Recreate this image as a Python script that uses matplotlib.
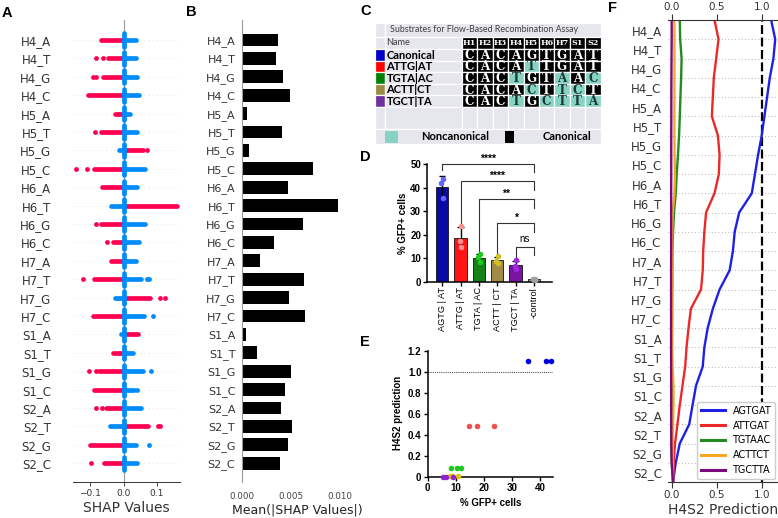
import numpy as np
import matplotlib
matplotlib.use('Agg')
import matplotlib.pyplot as plt
from matplotlib.patches import Rectangle

W, H = 778, 518

# ---- A / B : shap summary ----
features = ['H4_A', 'H4_T', 'H4_G', 'H4_C', 'H5_A', 'H5_T', 'H5_G', 'H5_C',
            'H6_A', 'H6_T', 'H6_G', 'H6_C', 'H7_A', 'H7_T', 'H7_G', 'H7_C',
            'S1_A', 'S1_T', 'S1_G', 'S1_C', 'S2_A', 'S2_T', 'S2_G', 'S2_C']

# dense part of each swarm row (red = feature present, blue = absent)
red_span = [(-0.068, 0), (-0.047, 0), (-0.063, 0), (-0.107, 0), (-0.026, 0), (-0.068, 0), (0, 0.058), (-0.089, 0),
            (-0.065, 0), (0, 0.160), (-0.068, 0), (-0.032, 0), (-0.039, 0), (-0.089, 0), (0, 0.079), (-0.092, 0),
            (0, 0.045), (-0.032, 0), (-0.074, 0), (-0.089, 0), (-0.053, 0), (0, 0.074), (-0.100, 0), (-0.060, 0)]
blue_span = [(0, 0.037), (0, 0.037), (0, 0.042), (0, 0.047), (0, 0.021), (0, 0.040), (-0.014, 0), (0, 0.065),
             (0, 0.042), (-0.039, 0), (0, 0.065), (0, 0.047), (0, 0.037), (0, 0.053), (-0.026, 0), (0, 0.063),
             (-0.008, 0), (0, 0.029), (0, 0.058), (0, 0.032), (0, 0.053), (-0.042, 0), (0, 0.037), (0, 0.042)]
# isolated points
red_out = [[], [-0.084, -0.063], [-0.092, -0.082], [], [], [-0.087], [0.072], [-0.144, -0.111],
           [], [], [-0.083], [-0.049], [], [-0.123], [0.110, 0.126], [],
           [], [], [-0.105, -0.084], [], [-0.084, -0.066], [0.104, 0.111], [], [-0.097]]
blue_out = [[], [], [], [], [], [], [], [],
            [], [], [], [], [], [0.070, 0.078], [], [0.089],
            [], [], [0.082], [0.040], [], [], [0.077], []]

mean_abs_shap = [0.0037, 0.0035, 0.0042, 0.0049, 0.00055, 0.0041, 0.00076, 0.0072,
                 0.0047, 0.0098, 0.0062, 0.0033, 0.0018, 0.0063, 0.0048, 0.0064,
                 0.0004, 0.0015, 0.0050, 0.0044, 0.0040, 0.0051, 0.0047, 0.0039]

# ---- C : substrate table ----
seq_cols = ['H1', 'H2', 'H3', 'H4', 'H5', 'H6', 'H7', 'S1', 'S2']
sub_names = ['Canonical', 'ATTG|AT', 'TGTA|AC', 'ACTT|CT', 'TGCT|TA']
sub_seqs = ['CACAGTGAT', 'CACATTGAT', 'CACTGTAAC', 'CACACTTCT', 'CACTGCTTA']
sub_colors = ['#0000c8', '#ff0000', '#008000', '#9a8a42', '#7030a0']

# ---- D / E : flow assay ----
groups = ['AGTG | AT', 'ATTG | AT', 'TGTA | AC', 'ACTT | CT', 'TGCT | TA', '-control']
gfp_reps = [[35.6, 42.0, 43.8], [14.6, 17.4, 23.6], [8.2, 10.3, 11.7],
            [7.8, 8.6, 10.8], [5.5, 6.6, 9.1], [0.8, 1.0, 1.2]]
bar_colors = ['#0a0aa8', '#ff1414', '#148214', '#a08c46', '#7814a0', '#8c8c8c']
dot_colors = ['#6464ff', '#ff8c8c', '#1ec81e', '#d2be28', '#a028dc', '#a0a0a0']
sig_from = [0, 1, 2, 3, 4]
sig_labels = ['****', '****', '**', '*', 'ns']
sig_levels = [50.0, 42.7, 35.0, 24.8, 14.9]
sig_leg_bottom = [47.5, 24.1, 12.8, 12.1, 10.0]

h4s2_pred = [1.10, 0.485, 0.085, 0.01, 0.0]
e_colors = ['#0000dc', '#f05050', '#1ec81e', '#dcc800', '#9620d2']

# ---- F : decision plot (top boundary = final prediction, bottom = base) ----
f_names = ['AGTGAT', 'ATTGAT', 'TGTAAC', 'ACTTCT', 'TGCTTA']
f_colors = ['#1f1fe6', '#ec2828', '#228b22', '#f5a623', '#7a0a7a']
pred_agtgat = [1.105, 1.15, 1.13, 1.09, 1.06, 1.03, 1.00, 0.96, 0.925, 0.89, 0.75, 0.70, 0.68,
               0.644, 0.532, 0.457, 0.40, 0.363, 0.345, 0.27, 0.232, 0.195, 0.09, 0.045, 0.015]
pred_attgat = [0.476, 0.52, 0.494, 0.468, 0.457, 0.446, 0.513, 0.532, 0.524, 0.476, 0.382, 0.363, 0.35,
               0.345, 0.326, 0.213, 0.187, 0.165, 0.15, 0.12, 0.09, 0.064, 0.037, 0.022, 0.015]
pred_tgtaac = [0.09, 0.094, 0.11, 0.105, 0.097, 0.09, 0.082, 0.07, 0.056, 0.045, 0.026, 0.015, 0.008,
               0.007, 0.006, 0.005, 0.004, 0.003, 0.002, 0.001, 0.0, 0.0, -0.004, 0.0, 0.015]
pred_acttct = [0.03, 0.03, 0.03, 0.03, 0.03, 0.03, 0.03, 0.032, 0.037, 0.03, 0.012, 0.006, 0.004,
               0.004, 0.004, 0.004, 0.004, 0.004, 0.01, 0.02, 0.02, 0.015, 0.01, 0.012, 0.015]
pred_tgctta = [0.0, 0.0, -0.002, -0.003, -0.004, -0.004, -0.005, -0.005, -0.005, -0.006, -0.006, -0.006, -0.006,
               -0.007, -0.007, -0.007, -0.007, -0.007, -0.006, -0.006, -0.006, -0.005, -0.004, 0.0, 0.015]


fig = plt.figure(figsize=(W / 100, H / 100), dpi=100)
fig.patch.set_facecolor('white')


def px_axes(x0, y0, x1, y1):
    # axes placed in figure pixels, measured from top left
    return fig.add_axes([x0 / W, 1 - y1 / H, (x1 - x0) / W, (y1 - y0) / H])


SHAP_RED = '#ff0051'
SHAP_BLUE = '#008bfb'
ARIAL = 'Liberation Sans'
n = len(features)
rows = np.arange(n)

# ---------------- A ----------------
axA = px_axes(73, 20, 180, 482)
for i in rows:
    axA.axhline(i, color='#cccccc', lw=0.5, dashes=(1, 5), zorder=0)
axA.axvline(0, color='#999999', lw=0.8, zorder=1)
for i in rows:
    axA.hlines(i, red_span[i][0], red_span[i][1], color=SHAP_RED, lw=3.4, capstyle='round', zorder=2)
    axA.scatter(red_out[i], [i] * len(red_out[i]), s=12, color=SHAP_RED, lw=0, zorder=2)
for i in rows:
    axA.hlines(i, blue_span[i][0], blue_span[i][1], color=SHAP_BLUE, lw=3.4, capstyle='round', zorder=3)
    axA.scatter(blue_out[i], [i] * len(blue_out[i]), s=12, color=SHAP_BLUE, lw=0, zorder=3)
    axA.vlines(0, i - 0.36, i + 0.36, color=SHAP_BLUE, lw=3.4, capstyle='round', zorder=3)
axA.set_xlim(-0.152, 0.17)
axA.set_ylim(24.02, -1.087)
axA.set_yticks(rows)
axA.set_yticklabels(features, fontsize=8.5, color='#333333')
axA.tick_params(axis='y', length=0, pad=16)
axA.set_xticks([-0.1, 0.0, 0.1])
axA.tick_params(axis='x', labelsize=6.5, colors='#333333', length=3, width=0.6, pad=2)
for s in ['top', 'left', 'right']:
    axA.spines[s].set_visible(False)
axA.spines['bottom'].set_color('#333333')
axA.spines['bottom'].set_linewidth(0.7)
axA.set_xlabel('SHAP Values', fontsize=10, color='#333333', labelpad=2)

# ---------------- B ----------------
axB = px_axes(242, 20, 352, 482)
axB.barh(rows, mean_abs_shap, height=0.69, color='black')
axB.set_xlim(0, 0.0112)
axB.set_ylim(24.02, -1.087)
axB.set_yticks(rows)
axB.set_yticklabels(features, fontsize=8, color='#333333')
axB.tick_params(axis='y', length=0, pad=4.8)
axB.set_xticks([0, 0.005, 0.010])
axB.set_xticklabels(['0.000', '0.005', '0.010'])
axB.tick_params(axis='x', length=0, labelsize=6.3, labelcolor='#444444', pad=7)
for s in ['top', 'right', 'bottom']:
    axB.spines[s].set_visible(False)
axB.spines['left'].set_color('#999999')
axB.spines['left'].set_linewidth(0.8)
axB.set_xlabel('Mean(|SHAP Values|)', fontsize=9, color='#222222', labelpad=2)

# ---------------- C ----------------
axC = px_axes(374, 22, 603, 145)
axC.set_xlim(374, 603)
axC.set_ylim(145, 22)
axC.axis('off')
BG = '#e6e6ed'
TEAL = '#86d2c3'


def cell(x0, y0, x1, y1, fc):
    axC.add_patch(Rectangle((x0, y0), x1 - x0, y1 - y0, facecolor=fc, edgecolor='white', lw=0.9))


sw0, sw1, nm1 = 375, 385, 462
cw = 15.4
col_x = [nm1 + cw * j for j in range(len(seq_cols) + 1)]
# title row
cell(sw0, 23, sw1, 36.5, BG)
cell(sw1, 23, col_x[-1], 36.5, BG)
axC.text(390, 29.9, 'Substrates for Flow-Based Recombination Assay', fontsize=6.4,
         family='Lato', color='#404040', va='center', ha='left')
# header row
cell(sw0, 36.5, sw1, 49, BG)
cell(sw1, 36.5, nm1, 49, BG)
axC.text(386.5, 42.9, 'Name', fontsize=6.6, family='Lato', color='#404040', va='center')
for j, c in enumerate(seq_cols):
    cell(col_x[j], 36.5, col_x[j + 1], 49, 'black')
    axC.text((col_x[j] + col_x[j + 1]) / 2, 43, c, fontsize=5.8, family='DejaVu Serif',
             fontweight='bold', color='white', ha='center', va='center')
# substrate rows
rh = 11.6
canon = sub_seqs[0]
for r, (name, seq, col) in enumerate(zip(sub_names, sub_seqs, sub_colors)):
    y0 = 49 + rh * r
    cell(sw0, y0, sw1, y0 + rh, col)
    cell(sw1, y0, nm1, y0 + rh, BG)
    axC.text(386.5, y0 + rh / 2 + 0.3, name, fontsize=8, family='Lato', fontweight='bold',
             color='black', va='center', ha='left')
    for j, b in enumerate(seq):
        noncanon = b != canon[j]
        cell(col_x[j], y0, col_x[j + 1], y0 + rh, TEAL if noncanon else 'black')
        axC.text((col_x[j] + col_x[j + 1]) / 2, y0 + rh / 2 + 0.4, b, fontsize=8.6, family='DejaVu Serif',
                 fontweight='bold', color='#1a3a34' if noncanon else 'white', ha='center', va='center')
# blank row
yb0, yb1 = 49 + rh * len(sub_names), 128.5
cell(sw0, yb0, sw1, yb1, BG)
cell(sw1, yb0, nm1, yb1, BG)
for j in range(len(seq_cols)):
    cell(col_x[j], yb0, col_x[j + 1], yb1, BG)
# key row
cell(sw0, yb1, col_x[-1], 144, BG)
axC.add_patch(Rectangle((385, 130.5), 13, 12, facecolor=TEAL, edgecolor='none'))
axC.text(455, 136.6, 'Noncanonical', fontsize=8, family='Lato', fontweight='bold', ha='center', va='center')
axC.add_patch(Rectangle((505, 130.5), 8.5, 12, facecolor='black', edgecolor='none'))
axC.text(567, 136.6, 'Canonical', fontsize=8, family='Lato', fontweight='bold', ha='center', va='center')

# ---------------- D ----------------
axD = px_axes(427.3, 150.1, 551.7, 281.7)
xs = np.arange(len(groups))
means = np.array([np.mean(r) for r in gfp_reps])
sds = np.array([np.std(r, ddof=1) for r in gfp_reps])
axD.bar(xs, means, width=0.67, color=bar_colors, edgecolor='#111111', linewidth=0.6, zorder=2)
axD.vlines(xs, means - sds, means + sds, color='black', lw=1.0, zorder=3)
axD.hlines(means + sds, xs - 0.17, xs + 0.17, color='black', lw=1.0, zorder=3)
jitter = np.array([0.05, -0.05, 0.04])
for i in xs:
    axD.scatter(xs[i] + jitter, gfp_reps[i], s=16, color=dot_colors[i], lw=0, zorder=4, clip_on=False)
for i, lbl, lev, lbot in zip(sig_from, sig_labels, sig_levels, sig_leg_bottom):
    x2 = xs[-1]
    axD.plot([i, i, x2, x2], [lbot, lev, lev, lev - 3.5], color='#333333', lw=0.8, clip_on=False)
    if lbl == 'ns':
        axD.text((i + x2) / 2, lev + 1.2, lbl, ha='center', va='bottom', fontsize=7, family=ARIAL)
    else:
        axD.text((i + x2) / 2, lev + 0.2, lbl, ha='center', va='bottom', fontsize=7.5,
                 family=ARIAL, fontweight='bold')
axD.set_xlim(-0.81, 5.97)
axD.set_ylim(0, 56)
axD.spines['left'].set_bounds(0, 50)
for s in ['top', 'right']:
    axD.spines[s].set_visible(False)
for s in ['left', 'bottom']:
    axD.spines[s].set_linewidth(1.1)
axD.set_yticks([0, 10, 20, 30, 40, 50])
axD.set_xticks(xs)
axD.set_xticklabels(groups, rotation=90, fontsize=6.6, family=ARIAL)
for t in axD.get_yticklabels():
    t.set_fontweight('bold')
    t.set_family(ARIAL)
axD.tick_params(axis='y', labelsize=7, length=3, width=1, pad=1.5)
axD.tick_params(axis='x', length=3, width=1, pad=1)
axD.set_ylabel('% GFP+ cells', fontsize=7, family=ARIAL, fontweight='bold')
axD.yaxis.set_label_coords(-0.155, 0.446)

# ---------------- E ----------------
axE = px_axes(427.7, 350.7, 553, 476.7)
axE.axhline(1.0, color='#333333', lw=0.7, ls=(0, (1, 1.2)), zorder=1)
for i in range(len(h4s2_pred)):
    axE.scatter(gfp_reps[i], [h4s2_pred[i]] * len(gfp_reps[i]), s=16, color=e_colors[i],
                lw=0, zorder=3, clip_on=False)
axE.set_xlim(0, 44.6)
axE.set_ylim(0, 1.2)
for s in ['top', 'right']:
    axE.spines[s].set_visible(False)
for s in ['left', 'bottom']:
    axE.spines[s].set_linewidth(1.1)
axE.set_xticks([0, 10, 20, 30, 40])
axE.set_yticks([0, 0.2, 0.4, 0.6, 0.8, 1.0, 1.2])
axE.set_yticklabels(['0', '0.2', '0.4', '0.6', '0.8', '1.0', '1.2'])
for t in axE.get_xticklabels() + axE.get_yticklabels():
    t.set_fontweight('bold')
    t.set_family(ARIAL)
axE.tick_params(labelsize=7, length=3, width=1, pad=1.5)
axE.set_ylabel('H4S2 prediction', fontsize=7, family=ARIAL, fontweight='bold')
axE.yaxis.set_label_coords(-0.2, 0.503)
axE.set_xlabel('% GFP+ cells', fontsize=7, family=ARIAL, fontweight='bold')
axE.xaxis.set_label_coords(0.5, -0.17)

# ---------------- F ----------------
axF = px_axes(668, 20, 778, 482)
kk = np.arange(n + 1)
for k in kk[1:-1]:
    axF.axhline(k, color='#999999', lw=0.6, dashes=(1, 3), zorder=0)
axF.axvline(1.0, color='black', lw=1.6, ls=(0, (4, 1.6)), zorder=1)
for vals, col, lab in zip([pred_agtgat, pred_attgat, pred_tgtaac, pred_acttct, pred_tgctta],
                          f_colors, f_names):
    axF.plot(vals, kk, color=col, lw=1.7, label=lab, zorder=2)
axF.set_ylim(n, 0)
axF.set_xlim(-0.041, 1.181)
axF.set_yticks(kk[:-1] + 0.5)
axF.set_yticklabels(features, fontsize=8.5, color='#333333')
axF.tick_params(axis='y', length=0, pad=4.5)
axF.set_xticks([0, 0.5, 1.0])
axF.tick_params(axis='x', top=True, labeltop=True, labelsize=7.5, colors='#333333',
                length=4, width=0.8, pad=2)
for s in ['left', 'right']:
    axF.spines[s].set_visible(False)
for s in ['top', 'bottom']:
    axF.spines[s].set_color('#333333')
    axF.spines[s].set_linewidth(0.8)
axF.set_xlabel('H4S2 Prediction', fontsize=10, color='#333333', labelpad=2)
leg = axF.legend(loc='lower right', fontsize=7, handlelength=2.4, borderaxespad=0.3,
                 labelspacing=0.5, borderpad=0.4, framealpha=1, edgecolor='#cccccc')
for line in leg.get_lines():
    line.set_linewidth(2.2)

# panel letters
for lbl, x, y in [('A', 2, 6.3), ('B', 186, 5.3), ('C', 360, 3.7), ('D', 360, 150.3),
                  ('E', 360, 335.3), ('F', 608, 0.5)]:
    fig.text(x / W, 1 - y / H, lbl, fontsize=10.5, fontweight='bold', family=ARIAL,
             ha='left', va='top')

fig.savefig('out.png', dpi=100)
